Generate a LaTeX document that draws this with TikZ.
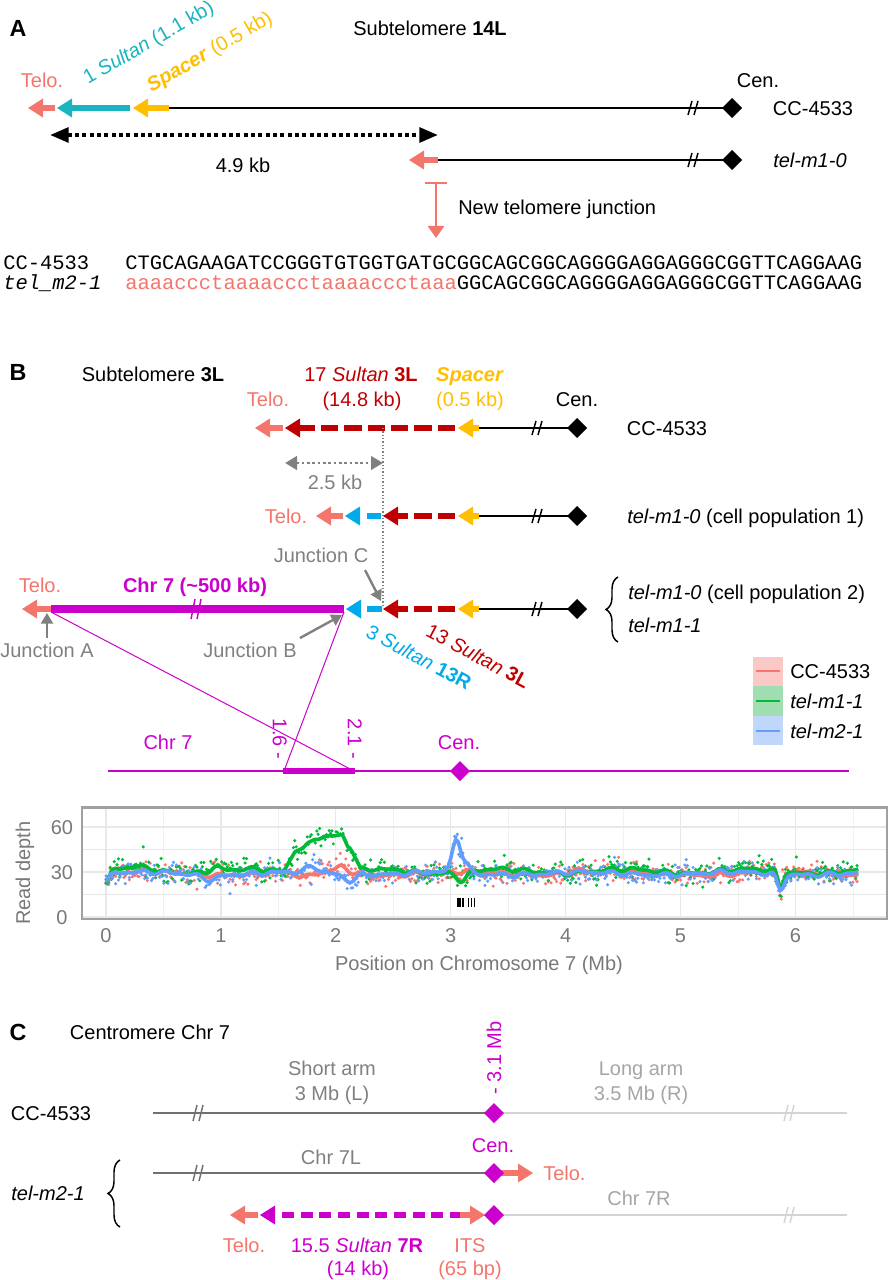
\documentclass[tikz,border=0pt]{standalone}
\usepackage{fontspec}
\setmainfont{Liberation Sans}
\newfontfamily\monof{Liberation Mono}
\usetikzlibrary{arrows.meta,decorations.pathreplacing}
\definecolor{salm}{RGB}{243,117,107}
\definecolor{teal1}{RGB}{24,180,192}
\definecolor{gold1}{RGB}{255,191,0}
\definecolor{dred}{RGB}{192,0,0}
\definecolor{lblue}{RGB}{0,170,235}
\definecolor{mag}{RGB}{204,0,204}
\definecolor{gtext}{RGB}{128,128,128}
\definecolor{dgline}{RGB}{112,112,112}
\definecolor{lgline}{RGB}{212,212,212}
\definecolor{lgtext}{RGB}{165,165,165}
\definecolor{cR}{RGB}{248,118,109}
\definecolor{cG}{RGB}{0,186,56}
\definecolor{cB}{RGB}{97,156,255}
\definecolor{kR}{RGB}{250,200,198}
\definecolor{kG}{RGB}{160,222,178}
\definecolor{kB}{RGB}{192,215,250}
\definecolor{gridc}{RGB}{232,232,232}
\definecolor{framec}{RGB}{160,160,160}
\definecolor{axc}{RGB}{120,120,120}
\newcommand{\ltip}[3]{\fill[#3] (#1,#2) -- ++(15,-9.5) -- ++(0,19) -- cycle;}
\newcommand{\rtip}[3]{\fill[#3] (#1,#2) -- ++(-15,-9.5) -- ++(0,19) -- cycle;}
\newcommand{\mybrk}[4]{\draw[#3, line width=1.1pt] ({#1-5},{#2+#4}) -- ({#1-1},{#2-#4}) ({#1+1},{#2+#4}) -- ({#1+5},{#2-#4});}
\newcommand{\mydia}[4]{\fill[#3] ({#1-#4},#2) -- (#1,{#2-#4}) -- ({#1+#4},#2) -- (#1,{#2+#4}) -- cycle;}
\begin{document}
\begin{tikzpicture}[x=0.75pt,y=-0.75pt,
  declare function={
    gs(\xa,\xc,\xw)=exp(-(min(abs(\xa-\xc)/\xw,3.5)*min(abs(\xa-\xc)/\xw,3.5)));
    rmp(\xa,\xc,\xw)=min(max((\xa-\xc)/\xw,0),1);
    fred(\xa)=29+1.2*sin(\xa*260)-4*gs(\xa,1.72,0.08)+5*gs(\xa,2.05,0.07)+2.5*gs(\xa,4.1,0.12)-8*gs(\xa,0,0.04)-12*gs(\xa,5.87,0.03);
    fgrn(\xa)=30.5+1.5*sin(\xa*330+40)+3*gs(\xa,0.95,0.06)+2*gs(\xa,0.3,0.15)+16*(rmp(\xa,1.55,0.1)-rmp(\xa,2.13,0.08))+8*(rmp(\xa,1.72,0.1)-rmp(\xa,2.06,0.05))-6*gs(\xa,3.1,0.06)-10*gs(\xa,0,0.04)-12*gs(\xa,5.87,0.03);
    fblu(\xa)=29+1*sin(\xa*280)-3*gs(\xa,0.9,0.1)+4*gs(\xa,1.8,0.08)-4*gs(\xa,2.12,0.07)+23*gs(\xa,3.05,0.05)+5*gs(\xa,3.13,0.05)-11*gs(\xa,5.87,0.04)-6*gs(\xa,0,0.04);
  },
  lbl/.style={inner sep=0pt, text height=10.7pt, text depth=0pt, font=\fontsize{15}{18}\selectfont},
  plbl/.style={inner sep=0pt, text height=12.5pt, text depth=0pt, font=\bfseries\fontsize{17.5}{20}\selectfont},
  seq/.style={inner sep=0pt, text height=9pt, text depth=0pt, font=\monof\fontsize{15.35}{18}\selectfont, anchor=west},
  shaft/.style={line width=4.5pt},
  dshaft/.style={line width=4.5pt, dash pattern=on 13pt off 4.5pt},
  chrl/.style={line width=1.5pt},
  jarrow/.style={gtext, line width=1.8pt, -{Triangle[length=8pt,width=9pt]}},
]
\useasboundingbox (0,0) rectangle (890,1280);
% ================= Panel A =================
\node[plbl] (pA) at (18,28) {A};
\node[lbl] (tA) at (430,28) {Subtelomere \textbf{14L}};
\draw[salm, shaft] (55,108) -- (42,108); \ltip{28}{108}{salm}
\draw[teal1, shaft] (130,108) -- (71,108); \ltip{57}{108}{teal1}
\draw[gold1, shaft] (169,108) -- (147,108); \ltip{133}{108}{gold1}
\draw[chrl] (169,108) -- (732,108);
\mybrk{693}{108}{black}{7}
\mydia{732}{108}{black}{10}
\node[lbl, salm] (telA) at (42,80) {Telo.};
\node[lbl, teal1, rotate=30] (sulA) at (148,42) {1 \textit{Sultan} (1.1 kb)};
\node[lbl, gold1, rotate=30] (spA) at (209,51) {\textbf{\textit{Spacer}} (0.5 kb)};
\node[lbl] (cenA) at (758,80) {Cen.};
\node[lbl] (ccA) at (813,108) {CC-4533};
\draw[line width=3pt, dash pattern=on 3pt off 2.5pt, {Triangle[length=14pt,width=11pt]}-{Triangle[length=14pt,width=11pt]}] (50,135) -- (438,135);
\node[lbl] (kbA) at (243,165) {4.9 kb};
\draw[salm, shaft] (438,160) -- (420,160); \ltip{409}{160}{salm}
\draw[chrl] (438,160) -- (732,160);
\mybrk{693}{160}{black}{7}
\mydia{732}{160}{black}{10}
\node[lbl, anchor=west] (tmA) at (773,160) {\textit{tel-m1-0}};
\draw[salm, line width=2.2pt] (425,183) -- (447,183);
\draw[salm, line width=2.2pt, -{Triangle[length=9pt,width=12pt]}] (436,183) -- (436,238);
\node[lbl, anchor=west] (njA) at (458,207) {New telomere junction};
\node[seq] (s1l) at (3,263) {CC-4533};
\node[seq] (s1) at (125,263) {CTGCAGAAGATCCGGGTGTGGTGATGCGGCAGCGGCAGGGGAGGAGGGCGGTTCAGGAAG};
\node[seq] (s2l) at (3,283) {\textit{tel\_m2-1}};
\node[seq] (s2) at (125,283) {\textcolor{salm}{aaaaccctaaaaccctaaaaccctaaa}GGCAGCGGCAGGGGAGGAGGGCGGTTCAGGAAG};
% ================= Panel B =================
\node[plbl] (pB) at (18,372) {B};
\node[lbl] (tB) at (153,374) {Subtelomere \textbf{3L}};
\node[lbl, dred] (s17) at (361,374) {17 \textit{Sultan} \textbf{3L}};
\node[lbl, dred] (s17k) at (362,399) {(14.8 kb)};
\node[lbl, gold1] (spB) at (470,374) {\textbf{\textit{Spacer}}};
\node[lbl, gold1] (spBk) at (470,399) {(0.5 kb)};
\node[lbl] (cenB) at (577,399) {Cen.};
\node[lbl, salm] (telB1) at (268,399) {Telo.};
% row 1
\draw[salm, shaft] (283,428) -- (268,428); \ltip{255}{428}{salm}
\draw[dred, dshaft] (455,428) -- (299,428); \ltip{285}{428}{dred}
\draw[gold1, shaft] (479,428) -- (471,428); \ltip{458}{428}{gold1}
\draw[chrl] (479,428) -- (577,428);
\mybrk{537}{428}{black}{7}
\mydia{577}{428}{black}{10}
\node[lbl] (ccB) at (667,428) {CC-4533};
\draw[gtext, line width=0.8pt, dash pattern=on 1pt off 1.5pt] (383,428) -- (383,608);
\draw[gtext, line width=2.2pt, dash pattern=on 2pt off 2pt, {Triangle[length=9pt,width=10pt]}-{Triangle[length=9pt,width=10pt]}] (285,463) -- (383,463);
\node[lbl, gtext] (kbB) at (335,482) {2.5 kb};
% row 2
\node[lbl, salm] (telB2) at (286,516) {Telo.};
\draw[salm, shaft] (343,516) -- (328,516); \ltip{316}{516}{salm}
\ltip{345}{516}{lblue} \draw[lblue, shaft] (367,516) -- (381,516);
\draw[dred, dshaft] (455,516) -- (397,516); \ltip{383}{516}{dred}
\draw[gold1, shaft] (479,516) -- (471,516); \ltip{458}{516}{gold1}
\draw[chrl] (479,516) -- (577,516);
\mybrk{537}{516}{black}{7}
\mydia{577}{516}{black}{10}
\node[lbl, anchor=west] (p1) at (627,516) {\textit{tel-m1-0} (cell population 1)};
% row 3
\node[lbl, salm] (telB3) at (40,585) {Telo.};
\draw[salm, shaft] (53,609) -- (35,609); \ltip{22}{609}{salm}
\draw[mag, line width=6pt] (51,609) -- (344,609);
\mybrk{196}{609}{mag}{10}
\node[lbl, mag] (chr7B) at (195,585) {\textbf{Chr 7 (\textasciitilde500 kb)}};
\ltip{346}{609}{lblue} \draw[lblue, shaft] (367,609) -- (382,609);
\draw[dred, dshaft] (455,609) -- (397,609); \ltip{383}{609}{dred}
\draw[gold1, shaft] (479,609) -- (471,609); \ltip{458}{609}{gold1}
\draw[chrl] (479,609) -- (577,609);
\mybrk{537}{609}{black}{7}
\mydia{577}{609}{black}{10}
\draw[line width=1.1pt, decorate, decoration={brace, amplitude=9pt}] (618,642) -- (618,577);
\node[lbl, anchor=west] (p2) at (628,592) {\textit{tel-m1-0} (cell population 2)};
\node[lbl, anchor=west] (p3) at (628,625) {\textit{tel-m1-1}};
\node[lbl, gtext] (jC) at (321,555) {Junction C};
\draw[jarrow] (365,570) -- (381,601);
\node[lbl, gtext] (jB) at (250,650) {Junction B};
\draw[jarrow] (300,638) -- (342,615);
\node[lbl, gtext] (jA) at (47,650) {Junction A};
\draw[jarrow] (47,638) -- (47,613);
\node[lbl, lblue, rotate=-28] (s3) at (419,657) {3 \textit{Sultan} \textbf{13R}};
\node[lbl, dred, rotate=-28] (s13) at (478,656) {13 \textit{Sultan} \textbf{3L}};
\draw[mag, line width=0.75pt] (51,612) -- (354,771);
\draw[mag, line width=0.75pt] (344,612) -- (284,771);
\draw[mag, line width=1.5pt] (108,771) -- (849,771);
\draw[mag, line width=4.5pt] (283,771) -- (355,771);
\mydia{460}{771}{mag}{10}
\node[lbl, mag] (chrl7) at (168,742) {Chr 7};
\node[lbl, mag] (cen7) at (459,742) {Cen.};
\node[lbl, mag, rotate=-90] (m16) at (280,739) {1.6 -};
\node[lbl, mag, rotate=-90] (m21) at (355,739) {2.1 -};
% legend
\fill[kR] (753,657) rectangle (783,686); \draw[cR, line width=2.2pt] (756,671) -- (780,671);
\fill[kG] (753,686) rectangle (783,716); \draw[cG, line width=2.2pt] (756,701) -- (780,701);
\fill[kB] (753,716) rectangle (783,745); \draw[cB, line width=2.2pt] (756,731) -- (780,731);
\node[lbl, anchor=west] (lg1) at (790,671) {CC-4533};
\node[lbl, anchor=west] (lg2) at (790,701) {\textit{tel-m1-1}};
\node[lbl, anchor=west] (lg3) at (790,731) {\textit{tel-m2-1}};
% plot
\pgfmathsetseed{271}
\begin{scope}[shift={(79.5pt,-687.75pt)}, x=86.175pt, y=1.125pt]
  \begin{scope}
    \clip (-0.209,-1.33) rectangle (6.797,73.3);
    \foreach \g in {0.5,1.5,...,6.5} \draw[gridc!60!white, line width=0.5pt] (\g,-2) -- (\g,75);
    \foreach \g in {15,45} \draw[gridc, line width=0.6pt] (-1,\g) -- (7,\g);
    \foreach \g in {0,...,6} \draw[gridc, line width=1pt] (\g,-2) -- (\g,75);
    \foreach \g in {0,30,60} \draw[gridc, line width=1pt] (-1,\g) -- (7,\g);
    \foreach \col/\fn in {cR/fred,cG/fgrn,cB/fblu}{
      \foreach \i in {0,...,545}{
        \pgfmathsetmacro\xx{\i*0.012}
        \pgfmathsetmacro\yy{max(1.5,min(72,\fn(\xx)+3*(rand+rand+rand)+9*rand*rand*rand))}
        \fill[\col] (\xx,\yy) circle[radius=1.3pt];
      }
    }
    \foreach \col/\fn in {cR/fred,cG/fgrn,cB/fblu}{
      \draw[\col, line width=2.7pt, line join=round] plot[domain=0:6.55, samples=300] (\x,{\fn(\x)+0.9*sin(\x*1500)+0.7*sin(\x*2300+30)});
    }
    \fill[black] (3.055,6.7) rectangle (3.09,12.7);
    \fill[black] (3.095,6.7) rectangle (3.12,12.7);
    \foreach \g in {3.15,3.177,3.21} \draw[black, line width=0.6pt] (\g,6.7) -- (\g,12.7);
  \end{scope}
  \draw[framec, line width=2.2pt] (-0.209,-1.33) rectangle (6.797,73.3);
\end{scope}
\foreach \k in {0,...,6} \node[lbl, axc] (xt\k) at ({106+114.9*\k},935) {\k};
\node[lbl, axc] (y60) at (62,827) {60};
\node[lbl, axc] (y30) at (62,872) {30};
\node[lbl, axc] (y0) at (62,917) {0};
\node[lbl, axc] (xlab) at (479,963) {Position on Chromosome 7 (Mb)};
\node[lbl, axc, rotate=90] (ylab) at (23,873) {Read depth};
% ================= Panel C =================
\node[plbl] (pC) at (18,1032) {C};
\node[lbl] (tC) at (150,1032) {Centromere Chr 7};
\node[lbl, mag, rotate=90] (m31) at (494,1058) {- 3.1 Mb};
\node[lbl, gtext] (sa1) at (332,1068) {Short arm};
\node[lbl, gtext] (sa2) at (332,1093) {3 Mb (L)};
\node[lbl, lgtext] (la1) at (641,1068) {Long arm};
\node[lbl, lgtext] (la2) at (641,1093) {3.5 Mb (R)};
\node[lbl] (ccC) at (51,1113) {CC-4533};
\draw[dgline, line width=2.2pt] (153,1113) -- (494,1113);
\mybrk{198}{1113}{dgline}{8}
\draw[lgline, line width=2.2pt] (494,1113) -- (847,1113);
\mybrk{789}{1113}{lgline}{8}
\mydia{494}{1113}{mag}{10}
\node[lbl, mag] (cenC) at (493,1145) {Cen.};
\node[lbl, gtext] (c7L) at (331,1157) {Chr 7L};
\draw[dgline, line width=2.2pt] (153,1173) -- (494,1173);
\mybrk{198}{1173}{dgline}{8}
\draw[salm, shaft] (500,1173) -- (519,1173); \rtip{533}{1173}{salm}
\mydia{494}{1173}{mag}{10}
\node[lbl, salm, anchor=west] (telC1) at (543,1173) {Telo.};
\draw[line width=1.1pt, decorate, decoration={brace, amplitude=9pt}] (120,1227) -- (120,1160);
\node[lbl] (tm2) at (48,1193) {\textit{tel-m2-1}};
\draw[lgline, line width=2.2pt] (494,1215) -- (847,1215);
\mybrk{789}{1215}{lgline}{8}
\draw[salm, shaft] (258,1215) -- (243,1215); \ltip{230}{1215}{salm}
\draw[mag, line width=4.5pt, dash pattern=on 9pt off 5pt] (462,1215) -- (274,1215); \ltip{260}{1215}{mag}
\draw[salm, shaft] (460,1215) -- (471,1215); \rtip{485}{1215}{salm}
\mydia{494}{1215}{mag}{10}
\node[lbl, lgtext] (c7R) at (639,1198) {Chr 7R};
\node[lbl, salm] (telC2) at (244,1245) {Telo.};
\node[lbl, mag] (s155) at (357,1245) {15.5 \textit{Sultan} \textbf{7R}};
\node[lbl, mag] (s155k) at (358,1268) {(14 kb)};
\node[lbl, salm] (its) at (470,1245) {ITS};
\node[lbl, salm] (itsk) at (470,1268) {(65 bp)};
\end{tikzpicture}
\end{document}
